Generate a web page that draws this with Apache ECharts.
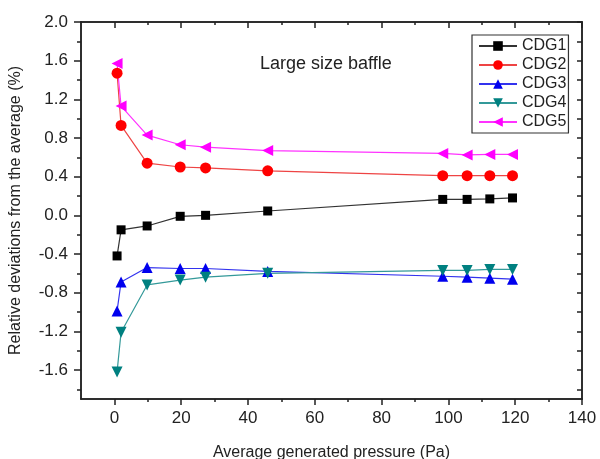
<!DOCTYPE html>
<html>
<head>
<meta charset="UTF-8">
<title></title>
<script src="https://cdn.jsdelivr.net/npm/echarts@6/dist/echarts.min.js"></script>
<style>
  body { margin: 0; background: #fff; }
  #main { width: 600px; height: 459px; }
</style>
</head>
<body>
<div id="main"></div>
<script type="text/javascript">
// pressure values (Pa)
var pressure = [0.8, 2.0, 9.8, 19.7, 27.3, 45.9, 98.3, 105.6, 112.4, 119.2];
var cdg1 = [-0.42, -0.15, -0.11, -0.01, 0.0, 0.045, 0.165, 0.165, 0.17, 0.18];
var cdg2 = [1.47, 0.93, 0.54, 0.50, 0.49, 0.46, 0.41, 0.41, 0.41, 0.41];
var cdg3 = [-0.99, -0.69, -0.54, -0.55, -0.55, -0.58, -0.63, -0.64, -0.65, -0.66];
var cdg4 = [-1.62, -1.21, -0.72, -0.67, -0.64, -0.60, -0.57, -0.57, -0.56, -0.56];
var cdg5 = [1.57, 1.13, 0.83, 0.73, 0.705, 0.67, 0.64, 0.625, 0.63, 0.63];

var xMajor = [0, 20, 40, 60, 80, 100, 120, 140];
var xMinor = [10, 30, 50, 70, 90, 110, 130];
var yMajor = [-1.6, -1.2, -0.8, -0.4, 0.0, 0.4, 0.8, 1.2, 1.6, 2.0];
var yMinor = [-1.8, -1.4, -1.0, -0.6, -0.2, 0.2, 0.6, 1.0, 1.4, 1.8];

function pairs(ys) {
	var out = [];
	for (var i = 0; i < pressure.length; i++) out.push([pressure[i], ys[i]]);
	return out;
}

var font = 'Liberation Sans, Arial, sans-serif';
var axisCol = '#222';

function xAx(pos, ticks, len, inside, labels) {
	return {
		type: 'value', position: pos, min: -10, max: 140,
		axisLine: { show: true, onZero: false, lineStyle: { color: axisCol, width: 1.5 } },
		axisTick: { show: true, inside: inside, length: len, customValues: ticks, lineStyle: { color: axisCol, width: 1.5 } },
		axisLabel: labels ? { show: true, customValues: xMajor, color: '#222', fontFamily: font, fontSize: 17, margin: 11 } : { show: false },
		splitLine: { show: false }
	};
}
function yAx(pos, ticks, len, inside, labels) {
	return {
		type: 'value', position: pos, min: -1.9, max: 2.0,
		axisLine: { show: true, onZero: false, lineStyle: { color: axisCol, width: 1.5 } },
		axisTick: { show: true, inside: inside, length: len, customValues: ticks, lineStyle: { color: axisCol, width: 1.5 } },
		axisLabel: labels ? {
			show: true, customValues: yMajor, color: '#222', fontFamily: font, fontSize: 17, margin: 13,
			formatter: function (v) { return v.toFixed(1); }
		} : { show: false },
		splitLine: { show: false }
	};
}

var xAxes = [
	xAx('bottom', xMajor, 6, false, true),
	xAx('bottom', xMinor, 3, false, false),
	xAx('top', xMajor, 6, true, false),
	xAx('top', xMinor, 3, true, false)
];
xAxes[0].name = 'Average generated pressure (Pa)';
xAxes[0].nameLocation = 'middle';
xAxes[0].nameGap = 46;
xAxes[0].nameTextStyle = { fontFamily: font, fontSize: 16, color: '#222' };

var yAxes = [
	yAx('left', yMajor, 7, false, true),
	yAx('left', yMinor, 4, false, false),
	yAx('right', yMajor, 5, true, false),
	yAx('right', yMinor, 5, true, false)
];
yAxes[0].name = 'Relative deviations from the average (%)';
yAxes[0].nameLocation = 'middle';
yAxes[0].nameGap = 57;
yAxes[0].nameTextStyle = { fontFamily: font, fontSize: 16, color: '#222' };

function line(name, data, col, lineCol, symbol, size, rot) {
	return {
		name: name, type: 'line', data: pairs(data),
		symbol: symbol, symbolSize: size, symbolRotate: rot || 0,
		itemStyle: { color: col },
		lineStyle: { color: lineCol, width: 1.2 },
		emphasis: { disabled: true },
		animation: false
	};
}

var myChart = echarts.init(document.getElementById('main'));
var option = {
	animation: false,
	grid: { left: 81, top: 22, right: 18, bottom: 60, containLabel: false, outerBoundsMode: 'none' },
	title: {
		text: 'Large size baffle', left: 255, top: 50,
		textStyle: { fontFamily: font, fontSize: 18, fontWeight: 'normal', color: '#222' }
	},
	legend: {
		orient: 'vertical', left: 472, top: 35,
		padding: [3, 2, 3, 6],
		itemWidth: 38, itemHeight: 12, itemGap: 3, itemTextGap: 4,
		borderColor: '#333', borderWidth: 1.2,
		textStyle: { fontFamily: font, fontSize: 16, color: '#222' },
		data: ['CDG1', 'CDG2', 'CDG3', 'CDG4', 'CDG5']
	},
	xAxis: xAxes,
	yAxis: yAxes,
	series: [
		line('CDG1', cdg1, '#000000', '#333333', 'rect', 9),
		line('CDG2', cdg2, '#ff0000', '#ee4444', 'circle', 11),
		line('CDG3', cdg3, '#0000ee', '#3333ee', 'triangle', 11),
		line('CDG4', cdg4, '#008080', '#339999', 'triangle', 11, 180),
		line('CDG5', cdg5, '#ff00ff', '#ff33ff', 'triangle', 11, 90)
	]
};
myChart.setOption(option);
</script>
</body>
</html>
